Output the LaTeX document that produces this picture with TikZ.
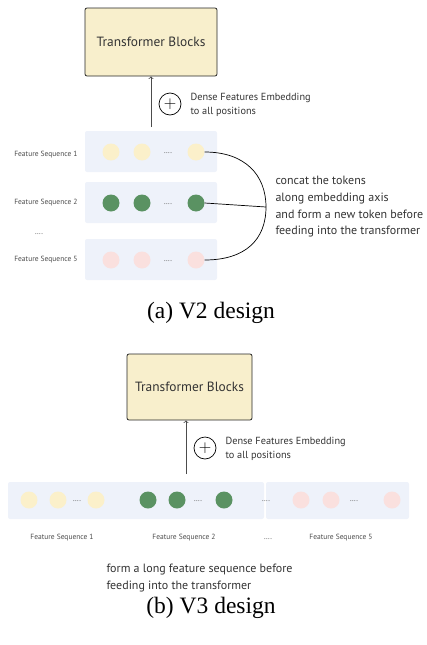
\documentclass[tikz,border=0pt]{standalone}
\usepackage{fontspec}
\setmainfont{Liberation Serif}
\newfontfamily\diagfont{PT Sans}
\usetikzlibrary{positioning}
\definecolor{blockfill}{HTML}{F8EFCC}
\definecolor{panelblue}{HTML}{EEF2FA}
\definecolor{tokyellow}{HTML}{FBF0CA}
\definecolor{tokgreen}{HTML}{5A9262}
\definecolor{tokpink}{HTML}{FAE0DE}
\definecolor{textgray}{HTML}{333333}
\tikzset{>=to}
\tikzset{block/.style={draw=black!85, fill=blockfill, rounded corners=2pt, line width=0.8pt, font=\diagfont\fontsize{13.4}{15}\selectfont, text=textgray}}
\tikzset{token/.style={circle, minimum size=17pt, inner sep=0pt}}
\tikzset{plus/.style={circle, draw, line width=0.7pt, minimum size=22pt, inner sep=0pt, font=\fontsize{18}{18}\selectfont}}
\tikzset{smalltxt/.style={font=\diagfont\fontsize{7.5}{9}\selectfont, text=black!70}}
\tikzset{note/.style={font=\diagfont\fontsize{10.3}{14}\selectfont, text=textgray, align=left, anchor=west}}
\tikzset{bignote/.style={font=\diagfont\fontsize{12}{16.7}\selectfont, text=textgray, align=left, anchor=west}}
\tikzset{caption/.style={font=\fontsize{23.5}{26}\selectfont}}

\begin{document}
\begin{tikzpicture}[x=1pt,y=-1pt]
      \useasboundingbox (0,0) rectangle (427,645);
      % (a) V2 design
      \node[block, minimum width=132pt, minimum height=68pt] (blocksA) at (151,42) {Transformer Blocks};
      \coordinate (inA) at (151,127);
      \draw[->, line width=0.8pt, black!70] (inA) -- (blocksA.south);
      \node[plus] (plusA) at (170,104) {$+$};
      \node[note] (denseA) at (187,105) {Dense Features Embedding\\to all positions};
      \fill[panelblue, rounded corners=2pt] (85,131) rectangle (217,172);
      \fill[panelblue, rounded corners=2pt] (85,182) rectangle (217,223);
      \fill[panelblue, rounded corners=2pt] (85,239) rectangle (217,280);
      \node[smalltxt, anchor=east] (labA1) at (81,155) {Feature Sequence 1};
      \node[smalltxt, anchor=east] (labA2) at (81,203) {Feature Sequence 2};
      \node[smalltxt] (dotsA) at (39,234) {....};
      \node[smalltxt, anchor=east] (labA5) at (81,260) {Feature Sequence 5};
      \node[token, fill=tokyellow] (a11) at (111,152) {};
      \node[token, fill=tokyellow] (a12) at (142,152) {};
      \node[smalltxt] (a1d) at (168,153) {....};
      \node[token, fill=tokyellow] (a13) at (196,152) {};
      \node[token, fill=tokgreen] (a21) at (111,203) {};
      \node[token, fill=tokgreen] (a22) at (142,203) {};
      \node[smalltxt] (a2d) at (168,204) {....};
      \node[token, fill=tokgreen] (a23) at (196,203) {};
      \node[token, fill=tokpink] (a51) at (111,260) {};
      \node[token, fill=tokpink] (a52) at (142,260) {};
      \node[smalltxt] (a5d) at (168,261) {....};
      \node[token, fill=tokpink] (a53) at (196,260) {};
      \coordinate (join) at (266,207);
      \draw[line width=0.7pt] (a13.east) .. controls (245,152) and (266,175) .. (join)
        .. controls (266,240) and (245,260) .. (a53.east);
      \draw[line width=0.7pt] (a23.east) -- (join);
      \node[bignote] (concat) at (272,207) {concat the tokens\\along embedding axis\\and form a new token before\\feeding into the transformer};
      \node[caption] (capA) at (211,313) {(a) V2 design};
      % (b) V3 design
      \node[block, minimum width=125pt, minimum height=66pt] (blocksB) at (189.5,387) {Transformer Blocks};
      \coordinate (inB) at (186,474);
      \draw[->, line width=0.8pt, black!70] (inB) -- (inB |- blocksB.south);
      \node[plus] (plusB) at (205,448) {$+$};
      \node[note] (denseB) at (222,449) {Dense Features Embedding\\to all positions};
      \fill[panelblue, rounded corners=2pt] (8,482) rectangle (264,519);
      \fill[panelblue, rounded corners=2pt] (266,482) rectangle (409,519);
      \node[token, fill=tokyellow] (b11) at (29,500) {};
      \node[token, fill=tokyellow] (b12) at (58,500) {};
      \node[smalltxt] (b1d) at (77,501) {....};
      \node[token, fill=tokyellow] (b13) at (96,500) {};
      \node[token, fill=tokgreen] (b21) at (148,500) {};
      \node[token, fill=tokgreen] (b22) at (177,500) {};
      \node[smalltxt] (b2d) at (198,501) {....};
      \node[token, fill=tokgreen] (b23) at (224,500) {};
      \node[smalltxt] (bmid) at (266,501) {....};
      \node[token, fill=tokpink] (b51) at (301,500) {};
      \node[token, fill=tokpink] (b52) at (331,500) {};
      \node[smalltxt] (b5d) at (354,501) {....};
      \node[token, fill=tokpink] (b53) at (392,500) {};
      \node[smalltxt] (labB1) at (62,538) {Feature Sequence 1};
      \node[smalltxt] (labB2) at (184,538) {Feature Sequence 2};
      \node[smalltxt] (labBd) at (268,539) {....};
      \node[smalltxt] (labB5) at (341,538) {Feature Sequence 5};
      \node[bignote] (longseq) at (103,578) {form a long feature sequence before\\feeding into the transformer};
      \node[caption] (capB) at (211,608) {(b) V3 design};
    \end{tikzpicture}
\end{document}
